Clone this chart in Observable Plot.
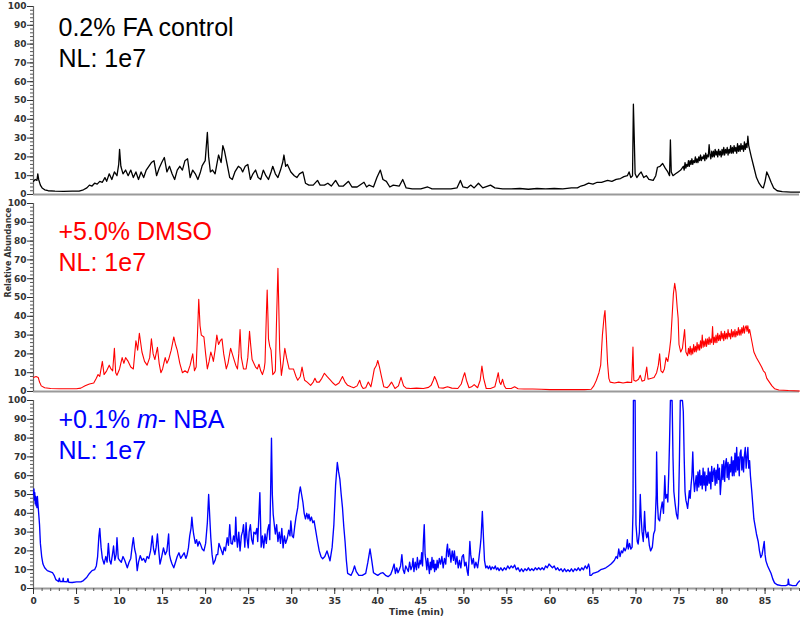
<!DOCTYPE html>
<html><head><meta charset="utf-8">
<script src="https://cdn.jsdelivr.net/npm/d3@7"></script>
<script src="https://cdn.jsdelivr.net/npm/@observablehq/plot@0.6"></script>
<style>
html,body{margin:0;padding:0;background:#fff;}
#chart{width:800px;height:620px;}
</style></head><body><div id="chart"></div>
<script>
const panelKeys = ["fa", "dmso", "nba"];
const sampleLabels = ["0.2% FA control", "+5.0% DMSO", "+0.1% m- NBA"];
const nlLabel = "NL: 1e7";
const traceColors = ["#000000", "#ff0000", "#0000ff"];
const yTicks = [0, 10, 20, 30, 40, 50, 60, 70, 80, 90, 100];
const xTicks = [0, 5, 10, 15, 20, 25, 30, 35, 40, 45, 50, 55, 60, 65, 70, 75, 80, 85];
const yAxisLabel = "Relative Abundance";
const xAxisLabel = "Time (min)";

// [time (min), relative abundance]
const faTrace = [[0,7],[0.2,8],[0.4,7.5],[0.5,11],[0.6,8],[0.8,5],[1.0,3.5],[1.3,2.5],[1.7,2],[2.5,1.8],[3.5,1.7],[4.5,1.8],[5.3,1.8],[5.8,2.5],[6.2,3.5],[6.5,5],[6.8,4.5],[7.1,6],[7.4,5.5],[7.7,7],[8.0,6.5],[8.3,9],[8.5,7],[8.8,11],[9.1,8],[9.4,12],[9.7,10],[9.9,16],[10.0,24],[10.15,15],[10.4,11],[10.7,13],[11.0,10],[11.3,13],[11.6,9],[11.9,12],[12.2,8],[12.5,12],[12.8,9],[13.1,13],[13.4,15],[13.7,17],[14.0,18],[14.3,10],[14.6,14],[14.9,17],[15.2,19.7],[15.5,12],[15.8,15],[16.1,11],[16.4,8],[16.7,13],[17.0,15],[17.3,13],[17.6,18],[17.9,19],[18.2,9],[18.5,13],[18.8,11],[19.1,8],[19.4,12],[19.6,15.4],[19.95,18],[20.2,33],[20.35,20],[20.55,12],[20.8,13],[21.1,11],[21.3,16],[21.5,21],[21.8,17],[22.0,26],[22.2,23],[22.5,16],[22.8,9],[23.1,8],[23.4,12],[23.8,15],[24.1,14],[24.3,12],[24.6,15],[24.9,16],[25.2,8],[25.5,11],[25.8,13],[26.1,9],[26.4,8],[26.7,13],[27.0,10],[27.3,8],[27.6,12],[27.8,15],[28.1,11],[28.4,9],[28.7,13],[28.95,17],[29.1,21],[29.3,15],[29.5,16],[29.9,12],[30.3,10],[30.6,9],[30.9,11],[31.3,12],[31.6,6],[32.0,5],[32.5,5],[33.0,7.5],[33.3,5],[33.8,5],[34.2,6],[34.6,4.5],[35.1,7.5],[35.5,4.5],[36.0,4.5],[36.6,7],[37.0,4],[37.6,4],[38.4,6.5],[38.7,4],[39.0,5],[39.5,4],[39.9,9],[40.3,13],[40.6,8],[41.0,7],[41.4,4],[41.8,5],[42.5,4.5],[42.9,8],[43.3,3.5],[44.0,3],[45.0,3],[45.8,4],[46.3,3],[47.5,3],[48.5,3],[49.2,3.5],[49.6,7.5],[49.9,4],[50.4,3.5],[50.8,5],[51.2,3.5],[51.7,6],[52.2,3.5],[53.1,5],[53.6,3.5],[54.5,3],[55.5,3],[56.5,3.2],[57.5,2.8],[58.5,3.2],[59.5,3],[60.5,3.2],[61.5,3],[62.5,3.5],[63.2,3.5],[63.6,4.5],[64.0,5],[64.5,6],[65.0,5.5],[65.5,6.5],[66.0,6.5],[66.7,7.5],[67.2,7],[67.7,8],[68.2,8.5],[68.6,9.5],[69.0,10],[69.2,12],[69.4,9],[69.6,10],[69.7,48],[69.8,30],[69.9,11],[70.1,9],[70.4,11],[70.6,12],[70.9,9],[71.2,10],[71.5,8],[72.0,7.5],[72.3,10],[72.5,14.5],[72.8,15],[73.1,16.5],[73.4,14],[73.7,12],[73.9,10],[74.0,29],[74.1,12],[74.3,10],[74.6,11],[74.9,12],[75.2,13],[75.5,15],[75.6,13],[75.7,17],[75.8,14],[75.9,16],[76.0,15],[76.1,18],[76.2,15],[76.3,18],[76.4,16],[76.5,19],[76.6,16],[76.7,18],[76.8,17],[76.9,20],[77.0,17],[77.1,19],[77.2,17],[77.3,20],[77.4,18],[77.5,21],[77.6,18],[77.7,20],[77.8,19],[77.9,21],[78.0,18],[78.1,22],[78.2,19],[78.3,21],[78.4,20],[78.5,26.5],[78.6,21],[78.7,19],[78.8,23],[78.9,20],[79.0,23],[79.1,20],[79.2,24],[79.3,21],[79.4,23],[79.5,20],[79.6,24],[79.7,21],[79.8,23],[79.9,20],[80.0,24],[80.1,21],[80.2,25],[80.3,21],[80.4,24],[80.5,22],[80.6,25],[80.7,21],[80.8,24],[80.9,22],[81.0,26],[81.1,22],[81.2,25],[81.3,22],[81.4,26],[81.5,23],[81.6,25],[81.7,22],[81.8,27],[81.9,23],[82.0,26],[82.1,23],[82.2,27],[82.3,24],[82.4,26],[82.5,23],[82.6,28],[82.7,24],[82.8,27],[82.9,25],[83.0,31],[83.1,26],[83.2,24],[83.4,20],[83.7,14.5],[84.0,9],[84.3,6],[84.6,4],[84.8,3.5],[85.0,7],[85.2,12],[85.4,10],[85.7,6.5],[86.0,3.5],[86.4,2],[87.0,1.5],[88.0,1.3],[89,1.3]];

const dmsoTrace = [[0,7.5],[0.3,8],[0.55,7.5],[0.7,5],[0.9,3],[1.3,2],[2,1.6],[3,1.5],[4,1.5],[5,1.5],[5.5,1.8],[6,3],[6.5,4],[7.0,4.5],[7.3,7],[7.5,9],[7.7,8],[8.0,16],[8.2,9],[8.5,11],[8.8,14],[9.0,12],[9.2,11],[9.4,23],[9.55,10],[9.7,8.6],[10.0,12],[10.3,18],[10.5,15],[10.7,18],[11.0,16],[11.3,13],[11.6,12],[11.9,27],[12.1,22],[12.3,31],[12.6,21],[12.9,16],[13.2,14],[13.5,18],[13.7,28],[13.9,20],[14.1,17],[14.4,23.5],[14.6,15],[14.8,10],[15.0,12],[15.3,18],[15.5,15],[15.7,17],[16.0,22],[16.3,29],[16.5,25],[16.7,22],[17.0,15],[17.3,10],[17.6,11],[17.9,10],[18.2,14],[18.5,20],[18.7,11],[18.9,13],[19.05,30],[19.2,49],[19.35,35],[19.5,30],[19.8,29],[20.0,20],[20.2,12],[20.4,16],[20.6,21],[20.8,18],[20.9,16],[21.1,22],[21.3,30],[21.5,25],[21.7,27],[21.9,28],[22.1,20],[22.4,12],[22.6,15],[22.9,23],[23.1,20],[23.3,17],[23.5,14],[23.7,12],[23.85,20],[24.0,33],[24.15,18],[24.4,12],[24.7,12],[24.9,18],[25.1,32],[25.25,24],[25.4,17],[25.6,15],[25.8,13],[26.0,12],[26.2,14.5],[26.4,11],[26.6,9],[26.8,12],[26.9,15.5],[27.05,40],[27.15,54],[27.25,38],[27.3,28],[27.45,24],[27.6,22],[27.8,9],[28.0,10],[28.1,11],[28.25,40],[28.4,65.5],[28.5,45],[28.6,22.6],[28.8,8.6],[29.0,15],[29.2,23],[29.4,18],[29.7,12],[30.0,12],[30.2,12],[30.5,8],[30.7,6],[31.0,8],[31.2,13],[31.4,8],[31.5,6],[31.8,5],[32.2,3.3],[32.5,5],[32.7,7],[32.9,5],[33.2,5],[33.5,7],[33.8,9.7],[34.1,8],[34.5,6],[34.8,4.5],[35.1,3.3],[35.5,4.5],[35.9,8],[36.2,5],[36.5,3.3],[36.9,2.5],[37.2,2],[37.6,3],[37.9,6],[38.1,3],[38.3,1.6],[38.6,2],[38.9,5],[39.2,2.5],[39.4,7],[39.6,12],[39.85,14],[40.0,16.5],[40.2,13],[40.4,8.6],[40.7,2.5],[41.1,2],[41.3,3],[41.6,5],[42.0,1.6],[42.4,3],[42.7,7.5],[43.0,3],[43.3,1.8],[43.8,1.6],[44.5,1.8],[45.3,1.6],[45.9,2.2],[46.2,3.3],[46.45,6],[46.6,8],[46.8,6],[47.1,2],[47.6,1.8],[48.1,2.5],[48.6,1.8],[49.3,1.6],[49.7,4],[49.95,8],[50.1,10],[50.3,6],[50.6,2],[50.9,2.5],[51.2,3.7],[51.6,2],[51.9,6],[52.1,13.5],[52.3,7],[52.6,1.6],[53.1,1.6],[53.6,2.5],[53.85,7],[54.0,10],[54.15,5],[54.3,3.7],[54.5,6.5],[54.7,3],[54.9,1.6],[55.5,1.6],[55.9,2.5],[56.3,1.5],[57.0,1.3],[58,1.3],[59,1.2],[60,1],[61,1],[62,1],[63,1],[64,1],[64.8,1.2],[65.1,3],[65.4,6],[65.7,10],[65.9,14],[66.1,30],[66.3,40],[66.4,43],[66.55,30],[66.7,15],[66.85,7],[67.0,5],[67.5,4.5],[68.0,5],[68.5,4.5],[69.0,5],[69.5,4.8],[69.65,23.6],[69.75,6],[70.0,5.5],[70.3,6.5],[70.5,8.6],[70.7,5.5],[71.0,6],[71.25,13],[71.4,6.5],[71.8,7],[72.1,7.5],[72.4,10],[72.6,14],[72.75,20],[72.9,11],[73.1,10],[73.3,12],[73.5,18],[73.7,16],[73.9,22],[74.05,28],[74.2,40],[74.35,52],[74.5,57.5],[74.65,53],[74.8,44],[74.9,39],[75.0,25],[75.2,21],[75.4,23],[75.65,33],[75.8,21],[76.0,19],[76.1,23],[76.2,20],[76.3,24],[76.4,19.5],[76.5,23],[76.6,20],[76.7,25],[76.8,21],[76.9,24],[77.0,21],[77.1,26],[77.2,22],[77.3,25],[77.4,22],[77.5,27],[77.6,23],[77.7,30],[77.8,23.5],[77.9,27],[78.0,24],[78.1,28],[78.2,24],[78.3,28],[78.4,25],[78.5,29],[78.6,25],[78.7,28],[78.8,26],[78.9,34.5],[79.0,25],[79.1,29],[79.2,26],[79.3,30],[79.4,26],[79.5,31],[79.6,27],[79.7,30],[79.8,27],[79.9,32],[80.0,28],[80.1,31],[80.2,27],[80.3,32],[80.4,28],[80.5,31],[80.6,28],[80.7,33],[80.8,29],[80.9,31],[81.0,28],[81.1,33],[81.2,29],[81.3,32],[81.4,29],[81.5,33],[81.6,29],[81.7,32],[81.8,30],[81.9,34],[82.0,30],[82.1,33],[82.2,30],[82.3,34],[82.4,31],[82.5,35],[82.6,31],[82.7,34],[82.8,35],[82.9,32],[83.0,35],[83.1,31],[83.2,33],[83.45,27],[83.7,21],[84.0,18],[84.3,15.5],[84.6,13],[84.8,11],[85.0,10],[85.2,7],[85.5,5],[85.8,3],[86.1,1.5],[86.6,0.8],[87.7,0.5],[89,0.3]];

const nbaTrace = [[0,50],[0.05,53],[0.1,47],[0.15,51],[0.2,45],[0.25,49],[0.3,44],[0.35,48],[0.4,43],[0.45,49],[0.5,46],[0.6,40],[0.7,34],[0.8,24],[0.95,17],[1.1,13],[1.3,11],[1.6,9.5],[1.9,9],[2.2,8.5],[2.4,7],[2.6,4.7],[2.9,3.7],[3.0,5.5],[3.1,3.7],[3.4,3.7],[3.45,5.5],[3.5,3.7],[3.9,3.5],[4.0,5.2],[4.1,3.3],[4.5,3.2],[5.0,3.5],[5.5,3.5],[5.8,4.2],[6.2,6],[6.5,8],[6.8,9.5],[7.1,10],[7.3,12],[7.45,17],[7.6,28],[7.7,32],[7.85,22],[8.0,16],[8.2,13],[8.4,17],[8.55,14],[8.7,24],[8.85,15],[9.0,13],[9.2,19],[9.3,22.6],[9.45,15],[9.6,18],[9.7,27],[9.85,16],[10.0,15],[10.2,14],[10.4,17],[10.6,15],[10.9,11],[11.1,14],[11.3,16],[11.45,22],[11.6,27],[11.75,21],[11.9,18],[12.05,9.5],[12.2,14],[12.4,17.5],[12.6,15],[12.8,16],[13.0,14],[13.2,17],[13.4,16],[13.6,20],[13.8,28],[13.95,21],[14.1,18],[14.25,22],[14.4,29],[14.55,20],[14.7,13],[14.9,17],[15.1,21.6],[15.3,18],[15.5,20],[15.7,29],[15.8,18],[15.95,15],[16.1,13],[16.3,11],[16.5,14],[16.7,17],[16.9,19],[17.1,16],[17.3,17.5],[17.5,19],[17.7,16],[17.85,18],[18.0,21.6],[18.15,28],[18.3,32],[18.4,38],[18.5,33],[18.6,29],[18.8,24],[18.95,26],[19.1,22.6],[19.25,25],[19.4,23.6],[19.6,21],[19.8,20],[20.0,24],[20.2,35],[20.35,50],[20.5,36],[20.6,27],[20.75,18],[20.9,13],[21.1,15],[21.25,18],[21.4,18],[21.55,24],[21.7,22],[21.85,20],[22.0,18],[22.15,22],[22.3,20],[22.5,27],[22.65,23],[22.8,34],[22.95,24],[23.1,23.6],[23.25,28],[23.4,25],[23.5,38],[23.6,27],[23.7,22],[23.85,30],[24.0,20],[24.15,28],[24.3,30.5],[24.4,34],[24.55,22],[24.7,35],[24.8,27],[24.95,21.6],[25.05,30],[25.2,34],[25.35,26],[25.5,23.6],[25.6,30],[25.8,29],[25.95,32],[26.05,25],[26.2,40],[26.3,51],[26.45,22],[26.6,28],[26.75,21.6],[26.9,29],[27.05,24],[27.2,31],[27.35,34],[27.45,26],[27.55,51],[27.65,80],[27.75,50],[27.85,39.5],[28.0,33],[28.1,29],[28.25,34],[28.4,25],[28.55,30],[28.7,24],[28.85,32],[29.0,21.6],[29.15,28],[29.3,24],[29.5,27],[29.65,31],[29.8,28],[29.9,36],[30.05,28],[30.2,27],[30.35,33],[30.5,38],[30.7,43],[30.85,50],[31.0,54],[31.15,50],[31.3,46],[31.45,40],[31.6,37],[31.75,40],[31.9,37],[32.0,39.5],[32.15,36],[32.3,38],[32.45,35],[32.6,36],[32.8,30.5],[33.0,25],[33.2,20],[33.4,17],[33.6,15.8],[33.85,17],[34.1,20],[34.3,17],[34.45,14.7],[34.7,22],[34.9,34],[35.1,55],[35.3,67],[35.45,62],[35.6,58],[35.75,50],[35.9,43],[36.05,33],[36.2,25],[36.35,15],[36.5,8],[36.7,7.5],[36.9,7],[37.1,9],[37.3,12],[37.5,9],[37.8,7],[38.2,7],[38.6,8],[38.85,14],[39.1,21],[39.3,15],[39.5,8.4],[39.8,7.5],[40.0,7],[40.3,8],[40.6,8.4],[40.9,7],[41.2,6.3],[41.5,7.5],[41.7,10],[41.9,13],[42.05,8],[42.2,11],[42.35,8.4],[42.5,10],[42.65,12],[42.8,18],[42.95,10],[43.1,8],[43.25,12],[43.4,10.5],[43.55,9],[43.7,14],[43.85,10],[44.0,12],[44.1,16],[44.2,9],[44.35,14],[44.5,10],[44.6,16.5],[44.75,11],[44.9,15],[45.0,13],[45.1,19],[45.2,12],[45.3,25],[45.4,34],[45.5,18],[45.6,14.7],[45.7,10],[45.8,16],[45.9,12],[46.0,8],[46.1,14],[46.2,10],[46.3,16.5],[46.4,11],[46.5,15],[46.6,9],[46.7,13],[46.8,10],[46.9,15],[47.0,11],[47.15,16],[47.3,13],[47.45,17],[47.6,11],[47.75,16],[47.9,13],[48.0,20],[48.1,23.6],[48.2,17],[48.35,21],[48.5,14],[48.65,20],[48.8,15],[48.9,20],[49.05,13],[49.2,17],[49.35,11],[49.5,15],[49.65,11],[49.8,17],[49.95,18],[50.1,12],[50.25,14],[50.4,9],[50.5,7],[50.6,15],[50.7,25],[50.8,18],[50.95,13],[51.1,16],[51.25,11],[51.4,14],[51.6,11],[51.75,16],[51.9,22],[52.0,27],[52.15,41],[52.3,25],[52.4,15],[52.55,11],[52.7,12],[52.85,10.5],[53.0,12],[53.15,10],[53.3,11.5],[53.5,10.5],[53.65,12],[53.8,10],[53.95,11],[54.1,9.5],[54.3,11],[54.5,9.5],[54.7,11],[54.9,10],[55.1,12],[55.3,10.5],[55.5,12],[55.7,11],[55.9,12.5],[56.1,10],[56.3,11],[56.5,9],[56.7,10.5],[56.9,9],[57.1,10.5],[57.3,9.5],[57.5,11],[57.7,9.5],[57.9,10.5],[58.1,9.5],[58.3,11],[58.5,10],[58.7,11],[58.9,10],[59.1,11],[59.3,10],[59.5,12],[59.7,11],[59.9,13],[60.1,12],[60.3,11],[60.5,12],[60.7,10],[60.9,11],[61.1,9.5],[61.3,10.5],[61.5,9],[61.7,10.5],[61.9,9],[62.1,10],[62.3,9],[62.5,10.5],[62.7,9],[62.9,10.5],[63.1,9.5],[63.3,11],[63.5,9.5],[63.7,11],[63.9,10],[64.1,12],[64.3,10.5],[64.5,13],[64.6,11],[64.65,7],[64.8,7],[65.0,8],[65.3,8.5],[65.6,9],[65.9,10],[66.2,10.5],[66.5,11],[66.8,12],[67.1,13],[67.3,14],[67.5,15],[67.7,17],[67.85,16],[68.0,21],[68.15,17],[68.3,20],[68.45,19],[68.6,21.6],[68.75,20],[68.9,22],[69.0,26],[69.1,21],[69.25,24],[69.4,21],[69.55,22],[69.65,40],[69.7,100],[69.9,100],[69.95,60],[70.0,34],[70.15,25],[70.25,23.6],[70.4,30],[70.5,50],[70.6,38],[70.7,30.5],[70.85,25],[71.0,41],[71.1,31],[71.25,27],[71.4,30],[71.55,23],[71.7,20],[71.9,22],[72.05,29],[72.2,31],[72.35,50],[72.4,72.6],[72.5,45],[72.6,37],[72.75,36],[72.9,42],[73.05,46],[73.2,40],[73.35,60],[73.45,48],[73.6,50],[73.7,46],[73.8,60],[73.9,78],[74.0,100],[74.2,100],[74.3,70],[74.4,51.6],[74.55,45],[74.7,39.5],[74.85,37],[74.95,45],[75.05,69],[75.15,100],[75.4,100],[75.5,94],[75.6,70],[75.7,51.6],[75.8,47],[75.9,45],[76.0,42.6],[76.1,47],[76.2,52],[76.3,48],[76.4,55],[76.5,60],[76.6,72.6],[76.7,58],[76.8,51.6],[76.9,56],[77.0,60],[77.1,52],[77.2,62],[77.3,54],[77.4,63],[77.5,55],[77.6,60],[77.7,53],[77.8,64],[77.9,55],[78.0,62],[78.1,52],[78.2,60],[78.3,55],[78.4,64],[78.5,56],[78.6,62],[78.7,53],[78.8,65],[78.9,57],[79.0,62],[79.1,64],[79.2,55],[79.3,63],[79.4,56],[79.5,66],[79.6,58],[79.7,64],[79.8,50],[79.9,57],[80.0,66],[80.1,58],[80.2,68],[80.3,57],[80.4,66],[80.5,69],[80.6,59],[80.7,67],[80.8,58],[80.9,66],[81.0,62],[81.1,70],[81.2,60],[81.3,68],[81.4,60],[81.5,72],[81.6,62],[81.7,75],[81.8,63],[81.9,70],[82.0,60],[82.1,72],[82.2,73.7],[82.3,63],[82.4,70],[82.5,62],[82.6,71],[82.7,75],[82.8,64],[82.9,70],[83.0,75],[83.1,64],[83.2,68],[83.3,60],[83.45,52],[83.6,43],[83.7,37],[83.85,33],[84.0,29],[84.2,25],[84.35,20],[84.5,16.5],[84.65,18],[84.8,22],[84.9,25],[85.0,18],[85.1,14.7],[85.3,12],[85.5,10],[85.7,8],[85.9,5],[86.1,3],[86.4,2],[86.9,1.5],[87.4,1.5],[87.65,2],[87.7,5],[87.8,2],[88.2,1.5],[88.6,1.5],[88.8,3],[89,4]];

const traces = [faTrace, dmsoTrace, nbaTrace];
const lineWidths = [1.3, 1.1, 1.35];
const labelTop = [7, 14, 5];

const yMinor = d3.range(0, 101, 2);
const xMinor = d3.range(0, 90, 1);

const marks = [
  Plot.ruleY([0], {stroke: "#9a9a9a", strokeWidth: 2}),
  Plot.ruleX([0], {stroke: "#666", strokeWidth: 1.2}),
  Plot.axisY({ticks: yMinor, tickSize: 3, text: null, label: null, color: "#555"}),
  Plot.axisY({ticks: yTicks, tickSize: 6, tickPadding: 1, label: null, color: "#333", fontSize: 9, fontWeight: "bold"}),
  Plot.axisX({ticks: xMinor, tickSize: 3, text: null, label: null, color: "#555"}),
  Plot.axisX({ticks: xTicks, tickSize: 6, tickPadding: 3, label: xAxisLabel, labelAnchor: "center", labelArrow: "none", labelOffset: 26, color: "#333", fontSize: 9, fontWeight: "bold"}),
  Plot.text([yAxisLabel], {fy: () => "dmso", frameAnchor: "left", rotate: -90, dx: -25, fontSize: 8, fontWeight: "bold", fill: "#333"})
];
traces.forEach((tr, i) => {
  marks.push(Plot.line(tr, {x: d => d[0], y: d => d[1], fy: () => panelKeys[i], stroke: () => panelKeys[i], strokeWidth: lineWidths[i], curve: "linear"}));
});
panelKeys.forEach((k, i) => {
  marks.push(Plot.text([k], {
    fy: d => d, fill: d => d,
    text: () => sampleLabels[i] + "\n" + nlLabel,
    frameAnchor: "top-left", textAnchor: "start", lineAnchor: "top",
    dx: 25, dy: labelTop[i], fontSize: 25, lineHeight: 1.24,
    fontFamily: "Liberation Sans, Arial, sans-serif", fontWeight: "normal"
  }));
});

const chart = Plot.plot({
  width: 800,
  height: 620,
  marginLeft: 33,
  marginRight: 1,
  marginTop: 6,
  marginBottom: 32,
  x: {domain: [0, 89]},
  y: {domain: [0, 100]},
  fy: {domain: panelKeys, paddingInner: 0.0457, paddingOuter: 0, round: false, axis: null, label: null},
  color: {type: "ordinal", domain: panelKeys, range: traceColors},
  style: {fontFamily: "DejaVu Sans, sans-serif", background: "white", overflow: "visible"},
  marks
});
document.getElementById("chart").appendChild(chart);

// italic "m" in m-NBA
chart.querySelectorAll("text, tspan").forEach(el => {
  if (el.childElementCount === 0 && el.textContent === "+0.1% m- NBA") {
    el.textContent = "";
    el.appendChild(document.createTextNode("+0.1% "));
    const it = document.createElementNS("http://www.w3.org/2000/svg", "tspan");
    it.setAttribute("font-style", "italic");
    it.textContent = "m";
    el.appendChild(it);
    el.appendChild(document.createTextNode("- NBA"));
  }
});
</script>
</body></html>
